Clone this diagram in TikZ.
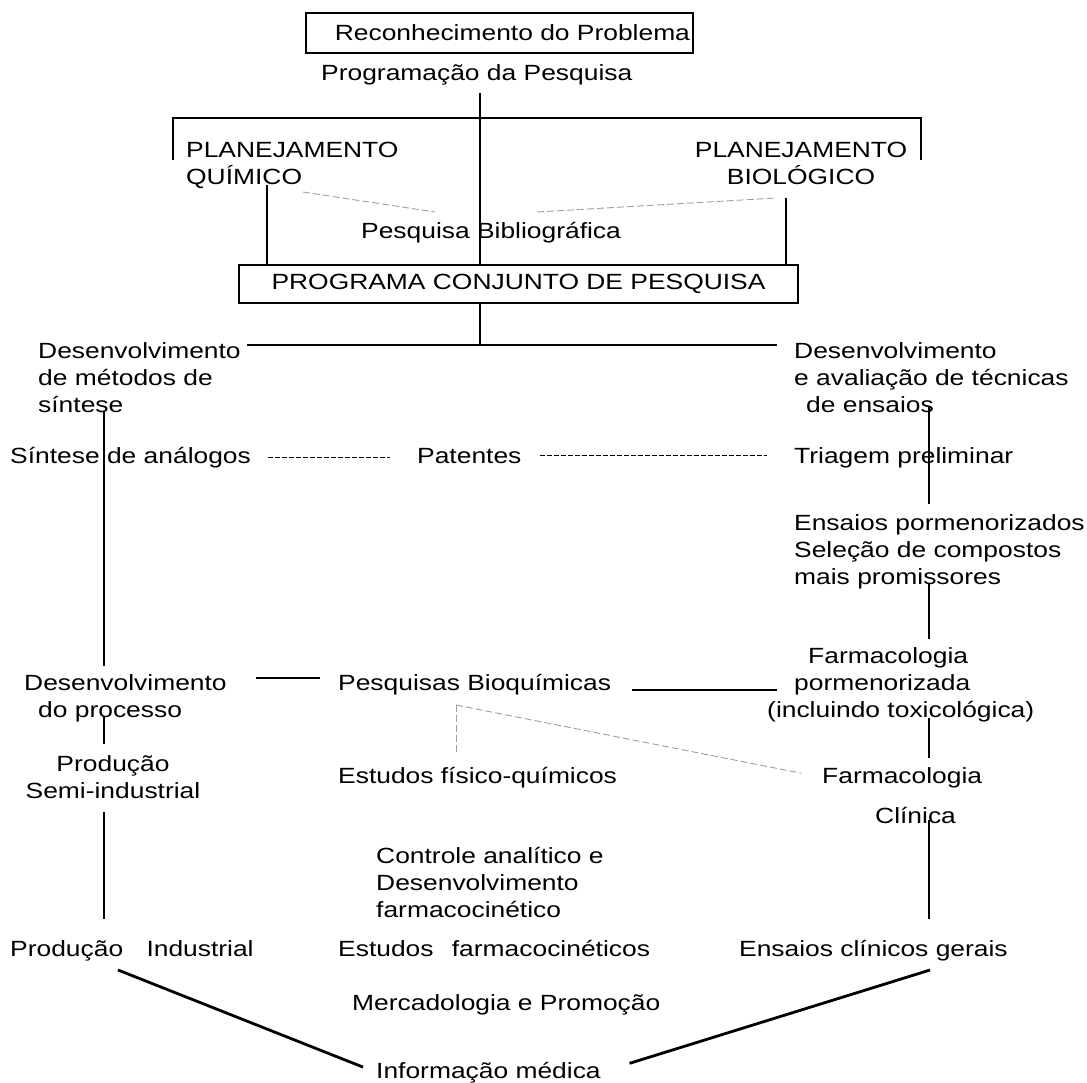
\documentclass[tikz,border=0pt]{standalone}
\usepackage{fontspec}
\setmainfont[FakeStretch=1.2]{Liberation Sans}

\begin{document}
\begin{tikzpicture}[
    x=1pt, y=-1pt,
    every node/.style={
        inner sep=0pt,
        font=\fontsize{22}{27}\selectfont
    },
    txt/.style={anchor=base west},
    block/.style={anchor=north west, align=left},
    cblock/.style={anchor=north, align=center},
    frame/.style={draw, line width=1.4pt},
    link/.style={draw, line width=1.1pt},
    heavy/.style={draw, line width=2.8pt},
    faint/.style={draw, gray!75, line width=0.9pt, dash pattern=on 7pt off 3pt},
    patlink/.style={draw, line width=1pt, dash pattern=on 5pt off 2pt}
]
\useasboundingbox (0,0) rectangle (1087,1082);

% Top
\node[frame, text width=381pt, align=right, inner xsep=3pt, minimum height=40pt] (recon) at (499.5,33) {Reconhecimento do Problema};
\node[txt] (prog) at (321,80) {Programação da Pesquisa};
\node[block] (planq) at (186,142) {PLANEJAMENTO\\QUÍMICO};
\node[cblock] (planb) at (801,142) {PLANEJAMENTO\\BIOLÓGICO};
\node[txt] (bib) at (361,238) {Pesquisa Bibliográfica};
\node[frame, minimum width=559pt, minimum height=38pt] (pcp) at (518.5,284) {PROGRAMA CONJUNTO DE PESQUISA};

% Middle
\node[block] (dms) at (38,342) {Desenvolvimento\\de métodos de\\síntese};
\node[block] (dat) at (794,342) {Desenvolvimento\\e avaliação de técnicas\\\hspace*{12pt}de ensaios};
\node[txt] (sint) at (10,463) {Síntese de análogos};
\node[txt] (pat) at (417,463) {Patentes};
\node[txt] (triag) at (794,463) {Triagem preliminar};
\node[block] (ensp) at (794,514) {Ensaios pormenorizados\\Seleção de compostos\\mais promissores};
\node[block] (farmp) at (767,647) {\hspace*{41pt}Farmacologia\\\hspace*{27pt}pormenorizada\\(incluindo toxicológica)};
\node[block] (dproc) at (24,674) {Desenvolvimento\\\hspace*{14pt}do processo};
\node[txt] (pbio) at (338,690) {Pesquisas Bioquímicas};
\node[cblock] (semi) at (113,755) {Produção\\Semi-industrial};
\node[txt] (efq) at (338,783) {Estudos físico-químicos};
\node[txt] (farmc) at (822,783) {Farmacologia};
\node[txt] (clin) at (875,823) {Clínica};
\node[block] (ctrl) at (376,847) {Controle analítico e\\Desenvolvimento\\farmacocinético};

% Bottom
\node[txt] (prodind) at (10,956) {Produção\hspace{16pt} Industrial};
\node[txt] (efarm) at (338,956) {Estudos\hspace{11pt} farmacocinéticos};
\node[txt] (ecg) at (739,956) {Ensaios clínicos gerais};
\node[txt] (merc) at (352,1010) {Mercadologia e Promoção};
\node[txt] (info) at (376,1078) {Informação médica};

% Trunk and fork
\coordinate (top) at (480,93);
\coordinate (fork) at (480,118);
\coordinate (brl) at (173,160);
\coordinate (brr) at (921,160);
\draw[link] (top) -- (top |- pcp.north);
\draw[link] (brl) |- (fork) -| (brr);
\coordinate (ql) at (267,185);
\coordinate (bl) at (786,198);
\draw[link] (ql) -- (ql |- pcp.north);
\draw[link] (bl) -- (bl |- pcp.north);
\coordinate (fq1) at (303,192);
\coordinate (fq2) at (435,212);
\coordinate (fb1) at (537,212);
\coordinate (fb2) at (776,198);
\draw[faint] (fq1) -- (fq2);
\draw[faint] (fb1) -- (fb2);

% Split below the joint programme
\coordinate (mid) at (480,345);
\coordinate (hl) at (247,345);
\coordinate (hr) at (777,345);
\draw[link] (pcp.south -| mid) -- (mid);
\draw[link] (hl) -- (hr);

% Left column
\coordinate (a1) at (104,412);
\coordinate (a2) at (104,717);
\coordinate (a3) at (104,812);
\draw[link, shorten >=8pt] (a1) -- (a1 |- dproc.north);
\draw[link, shorten >=11pt] (a2) -- (a2 |- semi.north);
\draw[link, shorten >=21pt] (a3) -- (a3 |- prodind.north);

% Right column
\coordinate (b1) at (929,407);
\coordinate (b2) at (929,583);
\coordinate (b3) at (929,718);
\coordinate (b4) at (929,820);
\draw[link, shorten >=10pt] (b1) -- (b1 |- ensp.north);
\draw[link, shorten >=8pt] (b2) -- (b2 |- farmp.north);
\draw[link, shorten >=9pt] (b3) -- (b3 |- farmc.north);
\draw[link, shorten >=21pt] (b4) -- (b4 |- ecg.north);

% Patents
\draw[patlink, shorten <=17pt, shorten >=27pt] (sint.east) -- (sint.east -| pat.west);
\draw[patlink, shorten <=18pt, shorten >=27pt] (pat.east) -- (pat.east -| triag.west);

% Biochemistry
\coordinate (c1) at (256,678);
\coordinate (c2) at (777,690);
\draw[link, shorten >=18pt] (c1) -- (c1 -| pbio.west);
\draw[link, shorten <=21pt] (pbio.base east) -- (c2);
\coordinate (gd) at (456,705);
\draw[faint, shorten >=12pt] (gd) -- (gd |- efq.north);
\draw[faint, shorten >=21pt] (gd) -- (farmc.west);

% Towards medical information
\coordinate (h1) at (118,970);
\coordinate (h2) at (930,970);
\draw[heavy, shorten >=14pt] (h1) -- (info.west);
\draw[heavy, shorten >=30pt] (h2) -- (info.east);

\end{tikzpicture}
\end{document}
